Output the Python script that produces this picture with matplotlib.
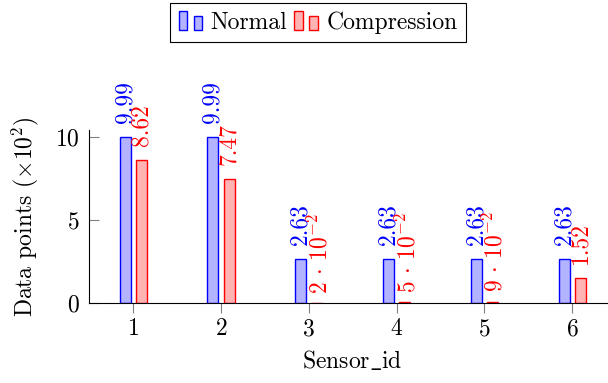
import matplotlib
matplotlib.use("Agg")
import matplotlib.pyplot as plt
import numpy as np
from matplotlib.legend_handler import HandlerBase
from matplotlib.patches import Rectangle

# ---- data ----
sensor_ids = [1, 2, 3, 4, 5, 6]
normal = [9.99, 9.99, 2.63, 2.63, 2.63, 2.63]
compression = [8.62, 7.47, 0.02, 0.05, 0.09, 1.52]
y_ticks = [0, 5, 10]

plt.rcParams["font.family"] = ["cmr10", "DejaVu Serif"]
plt.rcParams["mathtext.fontset"] = "cm"
plt.rcParams["axes.formatter.use_mathtext"] = True
plt.rcParams["font.size"] = 17

BLUE, BLUE_FILL = "#0000ff", "#b3b3ff"
RED, RED_FILL = "#ff0000", "#ffb3b3"


def fmt(v):
    # small values are shown pgfplots-style as  m · 10^e
    # returns (text, x offset pt, y offset pt)
    if v < 0.1:
        exp = int(np.floor(np.log10(v)))
        mant = v / 10 ** exp
        return r"$%d\,\cdot\,10^{%d}$" % (round(mant), exp), 2, 6.5
    return "%.2f" % v, 0, 10


class TwoBarHandler(HandlerBase):
    # pgfplots-style ybar legend image: two small bars of different height
    def create_artists(self, legend, orig_handle, xdescent, ydescent,
                       width, height, fontsize, trans):
        fc, ec = orig_handle
        w = width * 0.36
        out = []
        for x0, h in [(0.0, height * 1.0), (width * 0.64, height * 0.75)]:
            r = Rectangle((x0 - xdescent, -ydescent), w, h, facecolor=fc,
                          edgecolor=ec, lw=1.0, transform=trans)
            out.append(r)
        return out


fig = plt.figure(figsize=(6.08, 3.83), dpi=100)
ax = fig.add_axes([89.3 / 608, 80 / 383, (616 - 89.3) / 608, (303 - 130) / 383])

x = np.array(sensor_ids, dtype=float)
off, bw = 0.092, 0.125
ax.bar(x - off, normal, bw, color=BLUE_FILL, edgecolor=BLUE, lw=1.0)
ax.bar(x + off, compression, bw, color=RED_FILL, edgecolor=RED, lw=1.0)

for xs, vals, col in [(x - off, normal, BLUE), (x + off, compression, RED)]:
    for xi, v in zip(xs, vals):
        txt, dx, dy = fmt(v)
        ax.annotate(txt, (xi, v), xytext=(dx, dy), textcoords="offset points",
                    rotation=90, ha="center", va="bottom", color=col)

ax.set_xlim(0.5, 6.5)
ax.set_ylim(0, 10.4)
ax.set_xticks(sensor_ids)
ax.set_yticks(y_ticks)
ax.spines["top"].set_visible(False)
ax.spines["right"].set_visible(False)
for s in ("left", "bottom"):
    ax.spines[s].set_linewidth(0.8)
ax.tick_params(axis="x", direction="out", length=7, color="grey", width=0.8, pad=4)
ax.tick_params(axis="y", direction="in", length=7, color="grey", width=0.8, pad=7)

ax.set_xlabel(r"$\mathrm{Sensor\_id}$", labelpad=6)
ax.set_ylabel(r"Data points ($\times10^2$)", labelpad=10)

handles = [(BLUE_FILL, BLUE), (RED_FILL, RED)]
fig.legend(handles, ["Normal", "Compression"], handler_map={tuple: TwoBarHandler()},
           loc="upper center", bbox_to_anchor=(318 / 608, 1 - 3 / 383), ncol=2,
           frameon=True, fancybox=False, edgecolor="black", framealpha=1,
           handlelength=1.0, handleheight=0.85, handletextpad=0.35,
           columnspacing=0.3, borderpad=0.35, borderaxespad=0)
fig.legends[0].get_frame().set_linewidth(0.8)

fig.savefig("out.png", dpi=100)
